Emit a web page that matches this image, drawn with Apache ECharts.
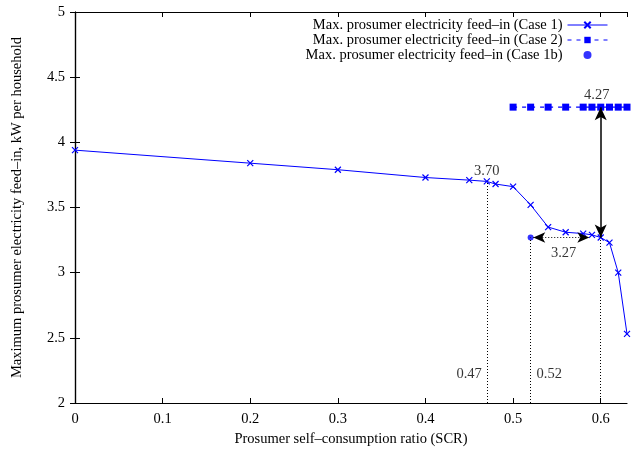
<!DOCTYPE html>
<html>
<head>
<meta charset="utf-8">
<script src="https://cdn.jsdelivr.net/npm/echarts@6/dist/echarts.min.js"></script>
<style>
  html, body { margin: 0; padding: 0; background: #ffffff; }
  #chart { width: 632px; height: 452px; }
</style>
</head>
<body>
<div id="chart"></div>
<script>
// Case 1: maximum feed-in vs. self-consumption ratio
const scrCase1  = [0, 0.2, 0.3, 0.4, 0.45, 0.47, 0.48, 0.5, 0.52, 0.54, 0.56, 0.58, 0.59, 0.6, 0.61, 0.62, 0.63];
const feedCase1 = [3.94, 3.84, 3.79, 3.73, 3.71, 3.70, 3.68, 3.66, 3.52, 3.35, 3.31, 3.30, 3.29, 3.27, 3.23, 3.00, 2.53];

// Case 2: constant maximum feed-in
const scrCase2  = [0.5, 0.52, 0.54, 0.56, 0.58, 0.59, 0.6, 0.61, 0.62, 0.63];
const feedCase2 = [4.27, 4.27, 4.27, 4.27, 4.27, 4.27, 4.27, 4.27, 4.27, 4.27];

// Case 1b: single operating point
const scrCase1b  = [0.52];
const feedCase1b = [3.27];

// Axis ticks
const xTickValues = [0, 0.1, 0.2, 0.3, 0.4, 0.5, 0.6];
const xTickLabels = ['0', '0.1', '0.2', '0.3', '0.4', '0.5', '0.6'];
const yTickValues = [2, 2.5, 3, 3.5, 4, 4.5, 5];
const yTickLabels = ['2', '2.5', '3', '3.5', '4', '4.5', '5'];

// Highlighted SCR values
const scrMarks = [0.47, 0.52, 0.6];

const seriesNames = [
  'Max. prosumer electricity feed\u2013in (Case 1)',
  'Max. prosumer electricity feed\u2013in (Case 2)',
  'Max. prosumer electricity feed\u2013in (Case 1b)'
];

const FONT = 'Liberation Serif';
const FS = 14.5;
const BLUE = '#0000ff';

const zip = (xs, ys) => xs.map((x, i) => [x, ys[i]]);
const feedAt = (xs, ys, x) => ys[xs.indexOf(x)];
const fmt2 = v => v.toFixed(2);

const markA = scrMarks[0], markB = scrMarks[1], markC = scrMarks[2];
const feedA = feedAt(scrCase1, feedCase1, markA);   // Case 1 at 0.47
const feedC1 = feedAt(scrCase1, feedCase1, markC);  // Case 1 at 0.6
const feedC2 = feedAt(scrCase2, feedCase2, markC);  // Case 2 at 0.6
const feedB = feedCase1b[0];                        // Case 1b at 0.52

const yMin = yTickValues[0];
const yMax = yTickValues[yTickValues.length - 1];
const xMin = xTickValues[0];
const xMax = scrCase1[scrCase1.length - 1];

const tickFmt = (values, labels) => v => {
  const i = values.findIndex(t => Math.abs(t - v) < 1e-9);
  return i >= 0 ? labels[i] : '';
};

const boxAxisLine = { show: true, lineStyle: { color: '#000', width: 1.2 } };
const inTick = { show: true, inside: true, length: 5, lineStyle: { color: '#000', width: 1 } };
const labelFont = { fontFamily: FONT, fontSize: FS, color: '#000' };

const dotted = { color: '#000', width: 1, type: [1, 2] };
const case2Line = { color: BLUE, width: 1.2, type: [4, 5] };

const annotationLabels = [
  { value: [markA, feedA], text: fmt2(feedA), pos: 'top', dist: 3, off: [0, 0] },
  { value: [markC, feedC2], text: fmt2(feedC2), pos: 'top', dist: 4, off: [-4, 0] },
  { value: [(markB + markC) / 2, feedB], text: fmt2(feedB), pos: 'bottom', dist: 8, off: [-2, 0] },
  { value: [markA, 2.22], text: fmt2(markA), pos: 'left', dist: 5, off: [0, 0] },
  { value: [markB, 2.22], text: fmt2(markB), pos: 'right', dist: 6, off: [0, 0] }
];

const chart = echarts.init(document.getElementById('chart'), null, { renderer: 'canvas' });

chart.setOption({
  animation: false,
  backgroundColor: '#ffffff',
  grid: { left: 75, right: 5, top: 12, bottom: 48, containLabel: false },
  legend: {
    data: [
      { name: seriesNames[0], lineStyle: { color: BLUE, width: 1 } },
      { name: seriesNames[1], lineStyle: { color: BLUE, width: 1, type: [4, 5] } },
      { name: seriesNames[2] }
    ],
    orient: 'vertical',
    align: 'right',
    right: 24,
    top: 17.5,
    padding: 0,
    itemWidth: 40,
    itemHeight: 8,
    itemGap: 0,
    textStyle: { fontFamily: FONT, fontSize: FS, color: '#000', lineHeight: 14 },
    selectedMode: false
  },
  xAxis: [
    {
      type: 'value', position: 'bottom', min: xMin, max: xMax, interval: 0.1,
      name: 'Prosumer self\u2013consumption ratio (SCR)',
      nameLocation: 'middle', nameGap: 29,
      nameTextStyle: labelFont,
      axisLine: boxAxisLine, axisTick: inTick,
      axisLabel: Object.assign({ margin: 9, showMaxLabel: false, formatter: tickFmt(xTickValues, xTickLabels) }, labelFont),
      splitLine: { show: false }
    },
    {
      type: 'value', position: 'top', min: xMin, max: xMax, interval: 0.1,
      axisLine: boxAxisLine, axisTick: inTick,
      axisLabel: { show: false }, splitLine: { show: false }
    }
  ],
  yAxis: [
    {
      type: 'value', position: 'left', min: yMin, max: yMax, interval: 0.5,
      name: 'Maximum prosumer electricity feed\u2013in, kW per household',
      nameLocation: 'middle', nameGap: 50,
      nameTextStyle: labelFont,
      axisLine: boxAxisLine, axisTick: inTick,
      axisLabel: Object.assign({ margin: 10, formatter: tickFmt(yTickValues, yTickLabels) }, labelFont),
      splitLine: { show: false }
    },
    {
      type: 'value', position: 'right', min: yMin, max: yMax, interval: 0.5,
      axisLine: boxAxisLine, axisTick: inTick,
      axisLabel: { show: false }, splitLine: { show: false }
    }
  ],
  series: [
    {
      name: seriesNames[0],
      type: 'line',
      data: zip(scrCase1, feedCase1),
      symbol: 'path://M0,0L10,10M10,0L0,10',
      symbolSize: 6,
      showAllSymbol: true,
      lineStyle: { color: BLUE, width: 1 },
      itemStyle: { color: BLUE, borderColor: BLUE, borderWidth: 1.2 },
      z: 3
    },
    {
      name: seriesNames[1],
      type: 'line',
      data: zip(scrCase2, feedCase2),
      symbol: 'rect',
      symbolSize: 7,
      showAllSymbol: true,
      lineStyle: case2Line,
      itemStyle: { color: BLUE, borderWidth: 0 },
      z: 3
    },
    {
      name: seriesNames[2],
      type: 'scatter',
      data: zip(scrCase1b, feedCase1b),
      symbol: 'circle',
      symbolSize: 6,
      itemStyle: { color: BLUE },
      z: 3
    },
    {
      name: 'annotations',
      type: 'scatter',
      symbolSize: 0,
      silent: true,
      z: 4,
      data: annotationLabels.map(a => ({
        value: a.value,
        label: {
          show: true, position: a.pos, distance: a.dist, offset: a.off,
          formatter: a.text, fontFamily: FONT, fontSize: FS, color: '#000'
        }
      })),
      markLine: {
        silent: true,
        animation: false,
        label: { show: false },
        emphasis: { disabled: true },
        data: [
          [
            { coord: [markA, yMin], symbol: 'none', lineStyle: dotted },
            { coord: [markA, feedA], symbol: 'none' }
          ],
          [
            { coord: [markB, yMin], symbol: 'none', lineStyle: dotted },
            { coord: [markB, feedB], symbol: 'none' }
          ],
          [
            { coord: [markC, yMin], symbol: 'none', lineStyle: dotted },
            { coord: [markC, feedC1], symbol: 'none' }
          ],
          [
            { coord: [markC, feedC1], symbol: 'arrow', symbolSize: [9, 13],
              lineStyle: { color: '#000', width: 1.5, type: 'solid' } },
            { coord: [markC, feedC2], symbol: 'arrow', symbolSize: [9, 13] }
          ],
          [
            { coord: [markB + 0.003, feedB], symbol: 'arrow', symbolSize: [8, 12], lineStyle: dotted },
            { coord: [markC - 0.013, feedB], symbol: 'arrow', symbolSize: [8, 12] }
          ]
        ]
      }
    }
  ]
});
</script>
</body>
</html>
